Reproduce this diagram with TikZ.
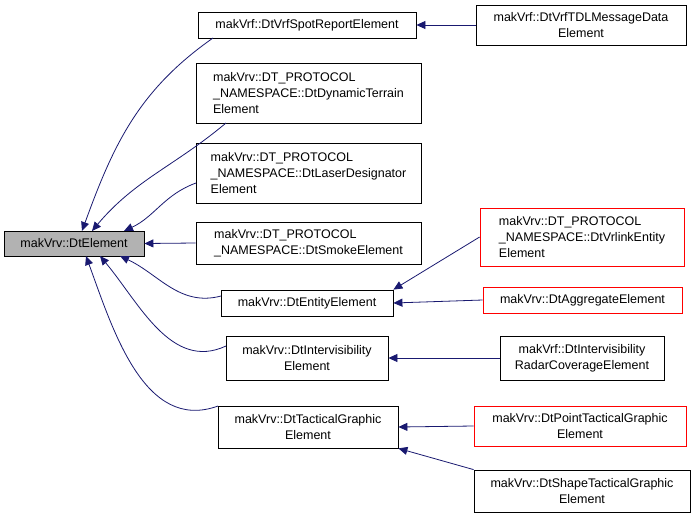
\documentclass[tikz,border=0pt]{standalone}
\usepackage{fontspec}
\setmainfont{Liberation Sans}
\usetikzlibrary{arrows.meta}
\definecolor{edge}{HTML}{191970}
\tikzset{
 box/.style={draw=black,fill=white,align=center,inner sep=0pt,font=\fontsize{12.5}{16}\selectfont,line width=0.8pt},
 redbox/.style={box,draw=red},
 lft/.style={align=left},
 inh/.style={draw=edge,line width=0.8pt,-{Triangle[length=9pt,width=8pt]}}
}
\newcommand{\bx}[6]{\node[#6,minimum width=#3-#1,minimum height=#4-#2] (#5) at ({(#1+#3)/2},{(#2+#4)/2})}
\begin{document}
\begin{tikzpicture}[x=1pt,y=-1pt]
\useasboundingbox (0,0) rectangle (696,517);
\bx{4}{231}{144}{256}{base}{box,fill=gray!60} {makVrv::DtElement};
\bx{198}{12}{416}{38}{spot}{box} {makVrf::DtVrfSpotReportElement};
\bx{476}{5}{686}{45}{tdl}{box} {makVrf::DtVrfTDLMessageData\\Element};
\bx{196}{63}{421}{123}{dyn}{box,lft} {makVrv::DT\_PROTOCOL\\\_NAMESPACE::DtDynamicTerrain\\Element};
\bx{196}{143}{421}{203}{laser}{box,lft} {makVrv::DT\_PROTOCOL\\\_NAMESPACE::DtLaserDesignator\\Element};
\bx{196}{222}{421}{264}{smoke}{box,lft} {makVrv::DT\_PROTOCOL\\\_NAMESPACE::DtSmokeElement};
\bx{480}{208}{684}{266}{vrl}{redbox,lft} {makVrv::DT\_PROTOCOL\\\_NAMESPACE::DtVrlinkEntity\\Element};
\bx{221}{290}{393}{316}{ent}{box} {makVrv::DtEntityElement};
\bx{483}{287}{682}{313}{agg}{redbox} {makVrv::DtAggregateElement};
\bx{226}{336}{388}{380}{intv}{box} {makVrv::DtIntervisibility\\Element};
\bx{500}{336}{664}{380}{radar}{box} {makVrf::DtIntervisibility\\RadarCoverageElement};
\bx{218}{406}{398}{448}{tac}{box} {makVrv::DtTacticalGraphic\\Element};
\bx{474}{406}{686}{446}{pt}{redbox} {makVrv::DtPointTacticalGraphic\\Element};
\bx{474}{470}{690}{512}{shp}{box} {makVrv::DtShapeTacticalGraphic\\Element};
\coordinate (s1) at (213,38);
\coordinate (s2) at (226,123);
\coordinate (s3) at (196,183);
\coordinate (s4) at (221,296);
\coordinate (s5) at (226,346);
\coordinate (s6) at (218,406);
\coordinate (e1) at (82,231);
\coordinate (e2) at (92,231);
\coordinate (e3) at (124,231);
\coordinate (e4) at (120,256);
\coordinate (e5) at (100,256);
\coordinate (e6) at (86,256);
\draw[inh] (s1) to[out=215,in=70] (e1);
\draw[inh] (s2) to[out=220,in=50] (e2);
\draw[inh] (s3) to[out=200,in=25] (e3);
\draw[inh] (smoke.west) -- (base.east);
\draw[inh] (s4) to[out=195,in=-25] (e4);
\draw[inh] (s5) to[out=205,in=-50] (e5);
\draw[inh] (s6) to[out=200,in=-70] (e6);
\draw[inh] (tdl.west) -- (spot.east);
\draw[inh] (vrl.west) -- (ent.north east);
\draw[inh] (agg.west) -- (ent.east);
\draw[inh] (radar.west) -- (intv.east);
\draw[inh] (pt.west) -- (tac.east);
\draw[inh] (shp.north west) -- (tac.south east);
\end{tikzpicture}
\end{document}
